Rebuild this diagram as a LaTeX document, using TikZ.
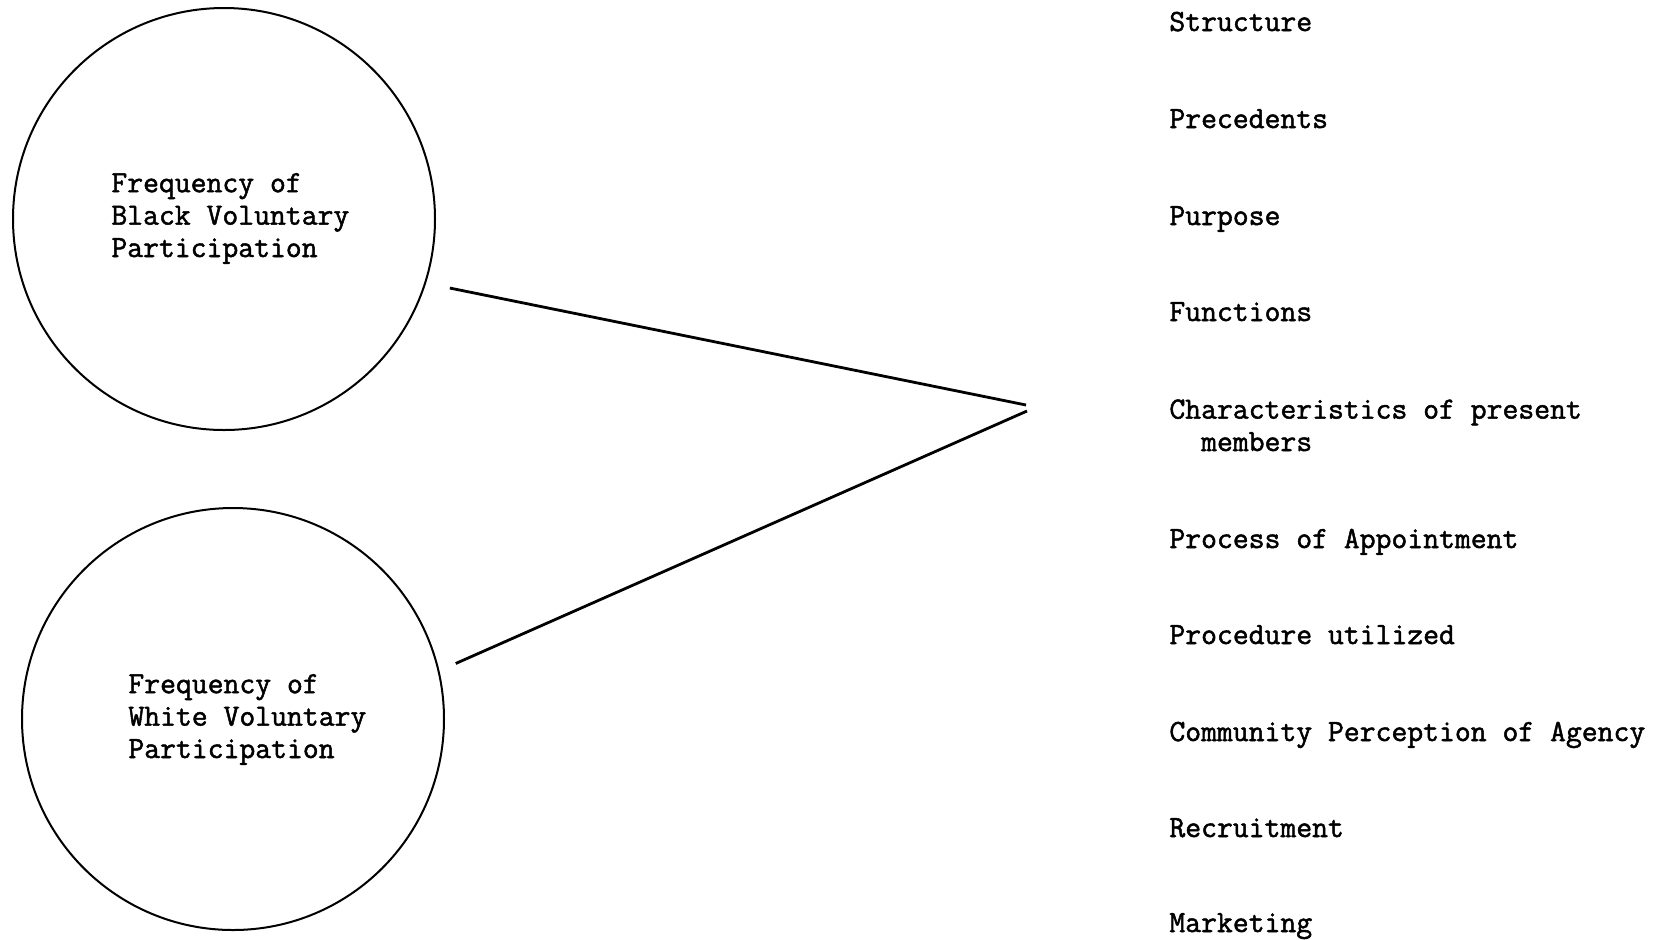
\documentclass[tikz,border=0pt]{standalone}
\usepackage{fontspec}
\newfontfamily\cour{Latin Modern Mono}[FakeBold=1.6]
\usetikzlibrary{calc}
\begin{document}
\begin{tikzpicture}[x=0.5pt,y=-0.5pt,
  lbl/.style={font=\cour\fontsize{15.4pt}{16.2pt}\selectfont, inner sep=0pt, anchor=base west, align=left},
  ring/.style={circle, draw, line width=1pt, minimum size=211pt, inner sep=0pt},
  link/.style={line width=1.4pt}]
\useasboundingbox (0,0) rectangle (1670,939);
\node[ring] (black) at (224,219) {};
\node[ring] (white) at (233,719) {};
\node[lbl] (tb) at (111,257) {Frequency of\\Black Voluntary\\Participation};
\node[lbl] (tw) at (128,758) {Frequency of\\White Voluntary\\Participation};
\coordinate (apex1) at (1026,405);
\coordinate (apex2) at (1027,411);
\draw[link] ($(black.center)!1.114!(black.-17.8)$) -- (apex1);
\draw[link] ($(white.center)!1.083!(white.14.7)$) -- (apex2);
\node[lbl] (f1) at (1169,31) {Structure};
\node[lbl] (f2) at (1169,128) {Precedents};
\node[lbl] (f3) at (1169,225) {Purpose};
\node[lbl] (f4) at (1169,321) {Functions};
\node[lbl] (f5) at (1169,451) {Characteristics of present\\\hphantom{ch}members};
\node[lbl] (f6) at (1169,548) {Process of Appointment};
\node[lbl] (f7) at (1169,644) {Procedure utilized};
\node[lbl] (f8) at (1169,741) {Community Perception of Agency};
\node[lbl] (f9) at (1169,837) {Recruitment};
\node[lbl] (f10) at (1169,932) {Marketing};
\end{tikzpicture}
\end{document}
